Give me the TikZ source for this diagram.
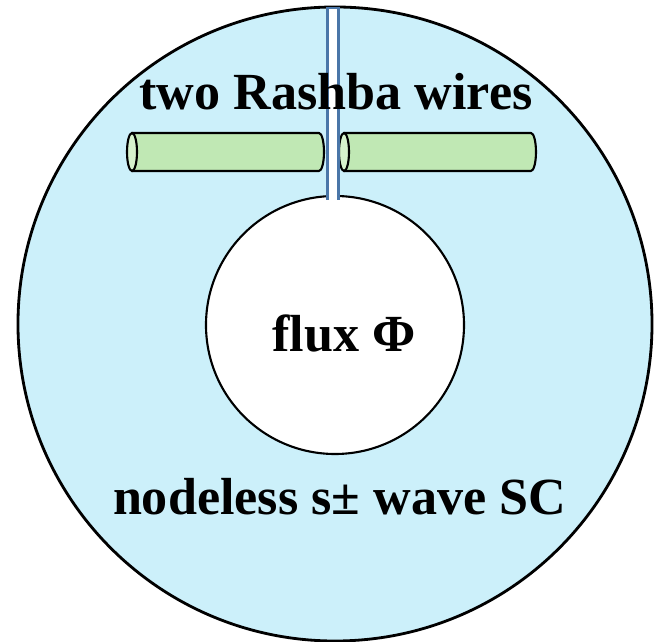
\documentclass[tikz,border=0pt]{standalone}
\usepackage{fontspec}
\setmainfont{Liberation Serif}
\usepackage{tikz}

\definecolor{scblue}{RGB}{204,240,250}
\definecolor{wiregreen}{RGB}{192,232,180}
\definecolor{capgreen}{RGB}{214,242,204}
\definecolor{slitblue}{RGB}{74,118,168}

\begin{document}
\begin{tikzpicture}[
    x=0.03cm, y=0.03cm,
    disc/.style={draw, circle, line width=2.4pt, fill=scblue, inner sep=0pt},
    hole/.style={draw, circle, line width=1.8pt, fill=white, inner sep=0pt},
    wire/.style={draw, line width=1.8pt, fill=wiregreen, line join=round},
    wirecap/.style={draw, line width=1.8pt, fill=capgreen},
    slitline/.style={draw=slitblue, line width=2.4pt},
    caption/.style={font=\fontsize{44.5}{47}\selectfont\bfseries, inner sep=0pt, anchor=base}
]
\useasboundingbox (0,0) rectangle (660,642);

% ring of superconductor with the hole
\node[disc, minimum size=19.02cm] (ring) at (335,318) {};
\node[hole, minimum size=7.74cm]  (hole) at (335,317) {};

% the two wires
\coordinate (leftend)  at (132,490);
\coordinate (rightend) at (344,490);
\draw[wire] ([yshift=19*0.03cm]leftend) -- ++(187,0)
    arc[start angle=90, end angle=-90, x radius=5, y radius=19] -- ++(-187,0) -- cycle;
\draw[wirecap] (leftend) ellipse [x radius=5, y radius=19];
\draw[wire] ([yshift=19*0.03cm]rightend) -- ++(187,0)
    arc[start angle=90, end angle=-90, x radius=5, y radius=19] -- ++(-187,0) -- cycle;
\draw[wirecap] (rightend) ellipse [x radius=5, y radius=19];

% slit
\fill[white] (327.3,442) rectangle (338.8,634);
\draw[slitline] (327.3,442) -- (327.3,634) -- (338.8,634) -- (338.8,442);

% labels
\node[caption] (wires) at (336,532)   {two Rashba wires};
\node[caption] (flux)  at (344,290)   {flux Φ};
\node[caption] (sc)    at (339.5,127) {nodeless s± wave SC};
\end{tikzpicture}
\end{document}
